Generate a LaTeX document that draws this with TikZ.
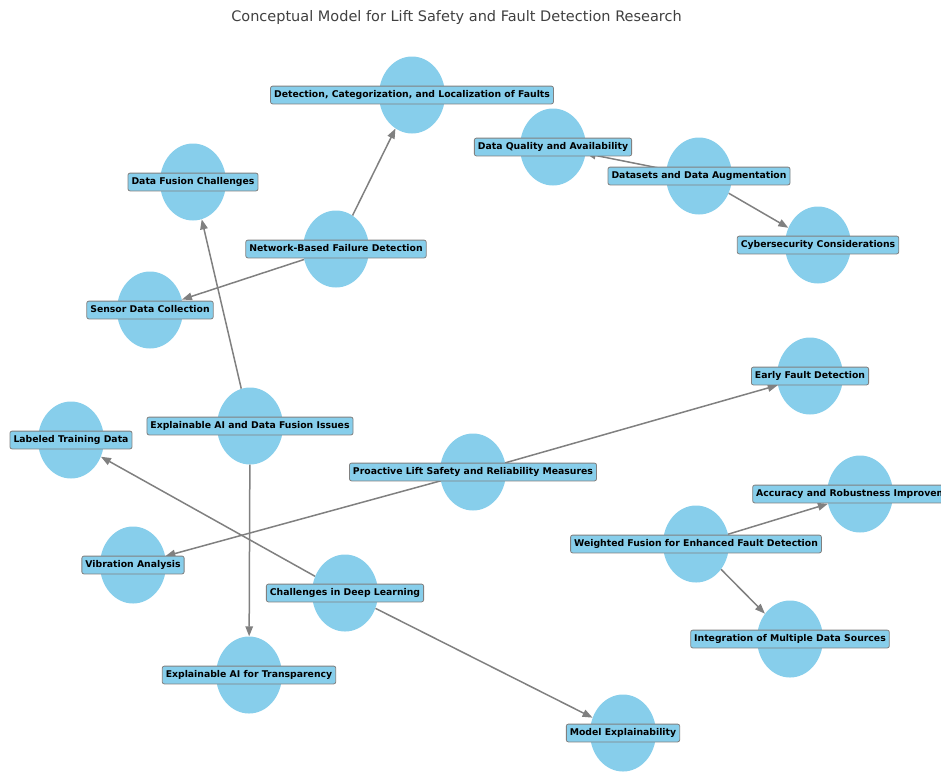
\documentclass[tikz,border=0pt]{standalone}
\usepackage{fontspec}
\setmainfont{DejaVu Sans}
\usetikzlibrary{shapes.geometric,arrows.meta}
\definecolor{skyblue}{RGB}{135,206,235}
\definecolor{edgegray}{RGB}{128,128,128}

\begin{document}
\begin{tikzpicture}[x=1pt,y=-1pt,
    topic/.style={ellipse, fill=skyblue, minimum width=66pt, minimum height=77pt, inner sep=0pt},
    tag/.style={draw=edgegray, fill=skyblue, rounded corners=2pt, line width=0.8pt,
        font=\fontsize{9.3}{10}\selectfont\bfseries, inner xsep=3.5pt, inner ysep=4.3pt,
        text height=7pt, text depth=2.2pt},
    link/.style={edgegray, line width=1.5pt, -{Triangle[length=10pt,width=7.5pt]}}]
    \useasboundingbox (0,0) rectangle (941,772);
    \clip (0,0) rectangle (941,772);

    % Title
    \node[anchor=base, font=\fontsize{14.5}{17}\selectfont, text=black!75] (title) at (456.5,21)
        {Conceptual Model for Lift Safety and Fault Detection Research};

    % Topics
    \node[topic] (dcl) at (412,95) {};
    \node[topic] (dqa) at (553,147) {};
    \node[topic] (dda) at (699,176) {};
    \node[topic] (cyb) at (818,245) {};
    \node[topic] (dfc) at (193,182) {};
    \node[topic] (nbf) at (336,249) {};
    \node[topic] (sdc) at (150,310) {};
    \node[topic] (efd) at (810,376) {};
    \node[topic] (ltd) at (71,440) {};
    \node[topic] (xdf) at (250,426) {};
    \node[topic] (pls) at (473,472) {};
    \node[topic] (arb) at (860,494) {};
    \node[topic] (wfe) at (696,544) {};
    \node[topic] (vib) at (133,565) {};
    \node[topic] (cdl) at (345,593) {};
    \node[topic] (imd) at (790,639) {};
    \node[topic] (xat) at (249,675) {};
    \node[topic] (mex) at (623,733) {};

    % Links
    \draw[link] (nbf) -- (dcl);
    \draw[link] (nbf) -- (sdc);
    \draw[link] (xdf) -- (dfc);
    \draw[link] (xdf) -- (xat);
    \draw[link] (dda) -- (dqa);
    \draw[link] (dda) -- (cyb);
    \draw[link] (pls) -- (efd);
    \draw[link] (pls) -- (vib);
    \draw[link] (cdl) -- (ltd);
    \draw[link] (cdl) -- (mex);
    \draw[link] (wfe) -- (arb);
    \draw[link] (wfe) -- (imd);

    % Tags
    \node[tag] (dcl-t) at (dcl) {Detection, Categorization, and Localization of Faults};
    \node[tag] (dqa-t) at (dqa) {Data Quality and Availability};
    \node[tag] (dda-t) at (dda) {Datasets and Data Augmentation};
    \node[tag] (cyb-t) at (cyb) {Cybersecurity Considerations};
    \node[tag] (dfc-t) at (dfc) {Data Fusion Challenges};
    \node[tag] (nbf-t) at (nbf) {Network-Based Failure Detection};
    \node[tag] (sdc-t) at (sdc) {Sensor Data Collection};
    \node[tag] (efd-t) at (efd) {Early Fault Detection};
    \node[tag] (ltd-t) at (ltd) {Labeled Training Data};
    \node[tag] (xdf-t) at (xdf) {Explainable AI and Data Fusion Issues};
    \node[tag] (pls-t) at (pls) {Proactive Lift Safety and Reliability Measures};
    \node[tag] (arb-t) at (arb) {Accuracy and Robustness Improvement};
    \node[tag] (wfe-t) at (wfe) {Weighted Fusion for Enhanced Fault Detection};
    \node[tag] (vib-t) at (vib) {Vibration Analysis};
    \node[tag] (cdl-t) at (cdl) {Challenges in Deep Learning};
    \node[tag] (imd-t) at (imd) {Integration of Multiple Data Sources};
    \node[tag] (xat-t) at (xat) {Explainable AI for Transparency};
    \node[tag] (mex-t) at (mex) {Model Explainability};
\end{tikzpicture}
\end{document}
